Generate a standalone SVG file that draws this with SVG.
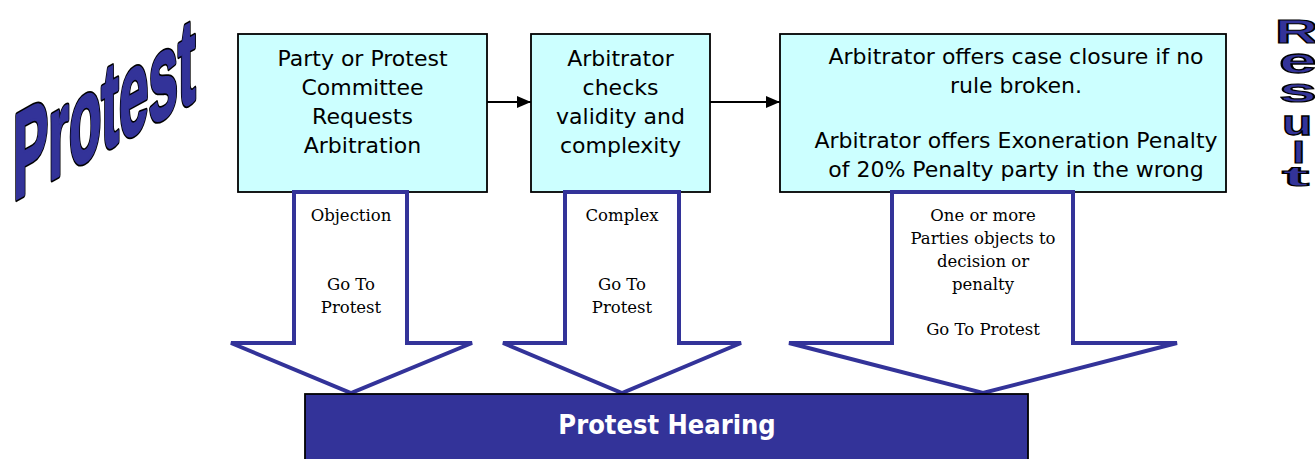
<svg xmlns="http://www.w3.org/2000/svg" width="1315" height="459" viewBox="0 0 1315 459">
<style>
.box{fill:#ccffff;stroke:#000;stroke-width:1.8}
.bt{font-family:"DejaVu Sans","Liberation Sans",sans-serif;font-size:22px;fill:#000;text-anchor:middle}
.down{fill:#fff;stroke:#333399;stroke-width:4;stroke-linejoin:miter}
.lt{font-family:"DejaVu Serif","Liberation Serif",serif;font-size:16.5px;fill:#000;text-anchor:middle}
.conn{stroke:#000;stroke-width:1.8;fill:none}
.wa{font-family:"Liberation Sans",Arial,sans-serif;font-weight:bold;fill:#333399;stroke:#000;stroke-width:1.2}
.wab{stroke:#000;stroke-width:2.6;stroke-linejoin:round}
.waf{stroke:#333399;stroke-width:1.1;stroke-linejoin:round}
</style>
<defs>
<marker id="ah" viewBox="0 0 14 12" refX="14" refY="6" markerWidth="14" markerHeight="12" markerUnits="userSpaceOnUse" orient="auto">
<path d="M0,0 L14,6 L0,12 Z" fill="#000"/>
</marker>
</defs>

<g id="title-protest" class="wa" font-size="53" transform="translate(13,201) skewY(-29) scale(1,2.3)">
<text class="wab">Protest</text>
<text class="waf">Protest</text>
</g>

<g id="title-result" class="wa">
<text font-size="34" transform="translate(1275,43) scale(1.75,0.95)">R</text>
<text font-size="34" transform="translate(1279,73) scale(2.0,1.05)">e</text>
<text font-size="34" transform="translate(1279,102) scale(2.0,1.0)">s</text>
<text font-size="34" transform="translate(1282,135) scale(1.45,1.05)">u</text>
<text font-size="34" transform="translate(1292,163) scale(1.4,0.85)">l</text>
<text font-size="34" transform="translate(1282,186) scale(2.4,0.8)">t</text>
</g>

<g id="node-request">
<rect class="box" x="238" y="34" width="249" height="158"/>
<text class="bt"><tspan x="362.5" y="66">Party or Protest</tspan><tspan x="362.5" y="95">Committee</tspan><tspan x="362.5" y="124">Requests</tspan><tspan x="362.5" y="153">Arbitration</tspan></text>
</g>

<g id="node-check">
<rect class="box" x="531" y="34" width="179" height="158"/>
<text class="bt"><tspan x="620.5" y="66">Arbitrator</tspan><tspan x="620.5" y="95">checks</tspan><tspan x="620.5" y="124">validity and</tspan><tspan x="620.5" y="153">complexity</tspan></text>
</g>

<g id="node-offer">
<rect class="box" x="780" y="34" width="446" height="158"/>
<text class="bt"><tspan x="1016" y="64">Arbitrator offers case closure if no</tspan><tspan x="1016" y="93">rule broken.</tspan><tspan x="1016" y="148">Arbitrator offers Exoneration Penalty</tspan><tspan x="1016" y="177">of 20% Penalty party in the wrong</tspan></text>
</g>

<g id="connectors">
<line class="conn" x1="487" y1="102" x2="531" y2="102" marker-end="url(#ah)"/>
<line class="conn" x1="710" y1="102" x2="780" y2="102" marker-end="url(#ah)"/>
</g>

<g id="arrow-objection">
<polygon class="down" points="294,192 407,192 407,343 472,343 351,393 231,343 294,343"/>
<text class="lt"><tspan x="351" y="221">Objection</tspan><tspan x="351" y="290">Go To</tspan><tspan x="351" y="313">Protest</tspan></text>
</g>

<g id="arrow-complex">
<polygon class="down" points="565,192 679,192 679,343 741,343 622,393 503,343 565,343"/>
<text class="lt"><tspan x="622" y="221">Complex</tspan><tspan x="622" y="290">Go To</tspan><tspan x="622" y="313">Protest</tspan></text>
</g>

<g id="arrow-objects">
<polygon class="down" points="892,192 1073,192 1073,343 1177,343 983,393 789,343 892,343"/>
<text class="lt"><tspan x="983" y="221">One or more</tspan><tspan x="983" y="244">Parties objects to</tspan><tspan x="983" y="267">decision or</tspan><tspan x="983" y="289.5">penalty</tspan><tspan x="983" y="335">Go To Protest</tspan></text>
</g>

<g id="node-hearing">
<rect x="305" y="394" width="723" height="70" fill="#333399" stroke="#000" stroke-width="1.8"/>
<text x="667" y="434" font-family="'DejaVu Sans Condensed','DejaVu Sans',sans-serif" font-stretch="condensed" font-weight="bold" font-size="27" fill="#fff" text-anchor="middle">Protest Hearing</text>
</g>
</svg>
